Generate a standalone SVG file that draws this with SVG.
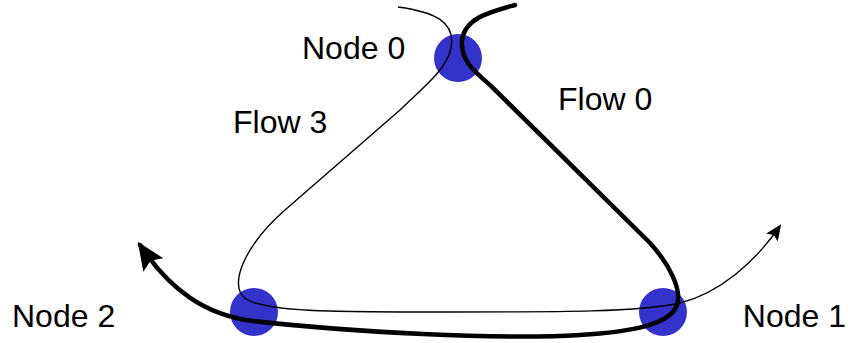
<svg xmlns="http://www.w3.org/2000/svg" width="853" height="343" viewBox="0 0 853 343">
<style>
.node{fill:#3333cc}
.lbl{font-family:"Liberation Sans",Arial,sans-serif;font-size:32px;fill:#000}
.thin{fill:none;stroke:#000;stroke-width:1.4}
.thick{fill:none;stroke:#000;stroke-width:4.5;stroke-linecap:round}
</style>
<defs>
<marker id="arT" markerUnits="userSpaceOnUse" viewBox="0 0 16 14" refX="14" refY="7" markerWidth="16" markerHeight="14" orient="auto">
<path d="M0,0 L16,7 L0,14 L3,7 Z" fill="#000"/>
</marker>
<marker id="arK" markerUnits="userSpaceOnUse" viewBox="0 0 28 24" refX="24" refY="12" markerWidth="28" markerHeight="24" orient="auto">
<path d="M0,0 L28,12 L0,24 L5,12 Z" fill="#000"/>
</marker>
</defs>
<g id="node0"><circle class="node" cx="458" cy="58" r="24"/><text class="lbl" x="302" y="59">Node 0</text></g>
<g id="node1"><circle class="node" cx="663" cy="312" r="24"/><text class="lbl" x="846" y="327" text-anchor="end">Node 1</text></g>
<g id="node2"><circle class="node" cx="254" cy="312" r="24"/><text class="lbl" x="12" y="327">Node 2</text></g>
<g id="connectors">
<path id="flow3" class="thin" marker-end="url(#arT)" d="M398,7 C435,12 456,22 451,48 C447,70 420,90 400,110 L285,210 C245,245 228,285 245,298 C262,312 330,312 450,312 C560,312 640,312 680,303 C720,293 755,262 780,226"/>
<path id="flow0" class="thick" marker-end="url(#arK)" d="M515,5 C490,12 465,18 462,40 C460,60 475,72 490,85 L650,243 C670,265 682,290 677,305 C670,325 630,332 580,335 C500,340 350,332 253,321 C205,315 170,290 140,245"/>
<text class="lbl" x="558" y="110">Flow 0</text>
<text class="lbl" x="233" y="133">Flow 3</text>
</g>
</svg>
